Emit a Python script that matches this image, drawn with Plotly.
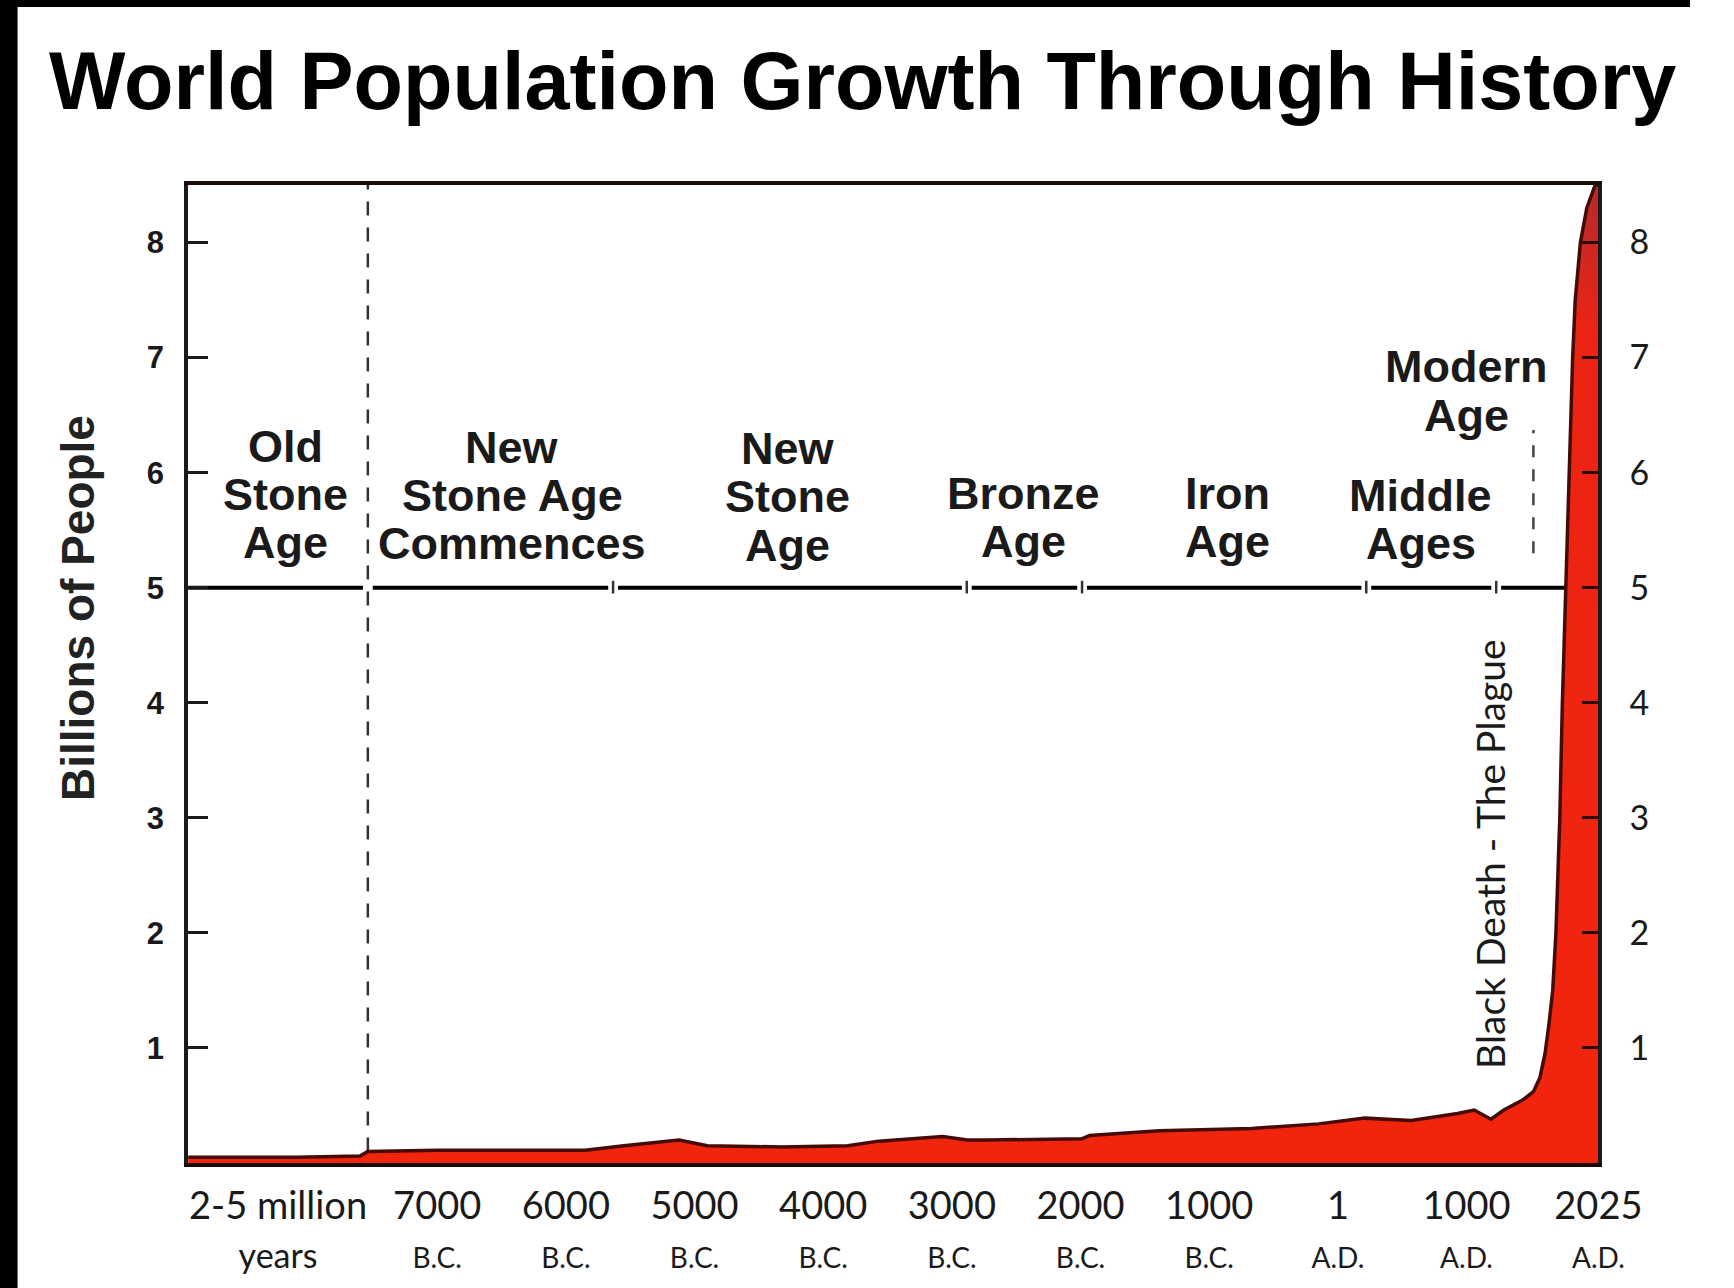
import plotly.graph_objects as go

# ---------------- data ----------------
years = [-8936, -8100, -7600, -7540, -7000, -5850, -5550, -5120, -4900, -4330,
         -3810, -3570, -3070, -2880, -2720, -1990, -1930, -1390, -670, -150,
         210, 570, 930, 1060, 1190, 1290, 1440, 1520, 1570, 1610,
         1640, 1670, 1695, 1725, 1745, 1770, 1800, 1825, 1845, 1885,
         1935, 2000, 2025]
population_billions = [0.05, 0.05, 0.06, 0.10, 0.11, 0.11, 0.15, 0.20, 0.15, 0.14,
                       0.15, 0.19, 0.23, 0.20, 0.20, 0.21, 0.24, 0.28, 0.30, 0.34,
                       0.39, 0.37, 0.43, 0.46, 0.38, 0.46, 0.55, 0.62, 0.74, 0.95,
                       1.2, 1.5, 2.0, 3.0, 4.0, 5.0, 6.0, 7.0, 7.5, 8.0,
                       8.3, 8.5, 8.5]

x_tick_years = [-8237, -7000, -6000, -5000, -4000, -3000, -2000, -1000, 1, 1000, 2025]
x_tick_top = ["2-5 million", "7000", "6000", "5000", "4000", "3000", "2000", "1000", "1", "1000", "2025"]
x_tick_bottom = ["years", "B.C.", "B.C.", "B.C.", "B.C.", "B.C.", "B.C.", "B.C.", "A.D.", "A.D.", "A.D."]

y_ticks = [1, 2, 3, 4, 5, 6, 7, 8]
y_tick_labels = ["1", "2", "3", "4", "5", "6", "7", "8"]

era_names = [["Old", "Stone", "Age"],
             ["New", "Stone Age", "Commences"],
             ["New", "Stone", "Age"],
             ["Bronze", "Age"],
             ["Iron", "Age"],
             ["Middle", "Ages"],
             ["Modern", "Age"]]
era_label_x = [-8177, -6415, -4274, -2444, -857, 646, 1003]
era_label_bottom = [5.39, 5.38, 5.37, 5.40, 5.40, 5.38, 6.50]

era_boundaries = [-7539, -5633, -2884, -1988, 221, 1231]
neolithic_start = -7539
modern_start = 1520

title_text = "World Population Growth Through History"
y_title_text = "Billions of People"
plague_text = "Black Death - The Plague"
plague_x = 1186
plague_y = 2.69

# ---------------- figure ----------------
W, H = 1734, 1288
X_RANGE = [-8936, 2025]
Y_RANGE = [0, 8.5]

fig = go.Figure()

fig.add_trace(go.Scatter(
    x=years, y=population_billions,
    mode="lines",
    line=dict(color="#450b06", width=3.5),
    fill="tozeroy",
    fillgradient=dict(type="vertical",
                      colorscale=[[0, "#f2240c"], [0.85, "#ec2414"], [1, "#b52a2c"]]),
    hoverinfo="skip", showlegend=False,
))
# invisible companion on the right-hand axis so it is drawn
fig.add_trace(go.Scatter(
    x=years, y=population_billions, yaxis="y2", mode="lines",
    line=dict(width=0, color="rgba(0,0,0,0)"), hoverinfo="skip", showlegend=False,
))

shapes = []
# black border of the original picture
shapes.append(dict(type="rect", xref="paper", yref="paper", x0=0, x1=18 / W, y0=0, y1=1,
                   fillcolor="black", line=dict(width=0), layer="below"))
shapes.append(dict(type="rect", xref="paper", yref="paper", x0=0, x1=1, y0=1 - 7 / H, y1=1,
                   fillcolor="black", line=dict(width=0), layer="below"))

# horizontal era line at 5 billion with small gaps at the boundaries
half_gap = 38
seg_edges = [X_RANGE[0]] + era_boundaries + [X_RANGE[1]]
for i in range(len(seg_edges) - 1):
    a = seg_edges[i] + (half_gap if i > 0 else 0)
    b = seg_edges[i + 1] - (half_gap if i + 1 < len(seg_edges) - 1 else 0)
    shapes.append(dict(type="line", xref="x", yref="y", x0=a, x1=b, y0=5, y1=5,
                       line=dict(color="black", width=4), layer="below"))
for bx in era_boundaries[1:]:
    shapes.append(dict(type="line", xref="x", yref="y", x0=bx, x1=bx, y0=4.95, y1=5.06,
                       line=dict(color="#333", width=2.5), layer="below"))

# dashed vertical line: start of the New Stone Age
shapes.append(dict(type="line", xref="x", yref="y", x0=neolithic_start, x1=neolithic_start,
                   y0=0.1, y1=Y_RANGE[1], line=dict(color="#333", width=2.5, dash="14px,12px"),
                   layer="below"))
# short dashed line: start of the Modern Age
shapes.append(dict(type="line", xref="x", yref="y", x0=modern_start, x1=modern_start,
                   y0=5.3, y1=6.37, line=dict(color="#444", width=2.5, dash="12px,12px"),
                   layer="below"))

annotations = []
annotations.append(dict(text="<b>" + title_text + "</b>", xref="paper", yref="paper",
                        x=885 / W, y=1 - 81 / H, xanchor="center", yanchor="middle",
                        showarrow=False,
                        font=dict(family="Liberation Sans, Arial", size=81, color="black")))
annotations.append(dict(text="<b>" + y_title_text + "</b>", xref="paper", yref="paper",
                        x=80 / W, y=1 - 608 / H, xanchor="center", yanchor="middle",
                        textangle=-90, showarrow=False,
                        font=dict(family="Liberation Sans, Arial", size=46, color="#222")))
line_step = 0.42
for lines, ex, eb in zip(era_names, era_label_x, era_label_bottom):
    n = len(lines)
    for i, t in enumerate(lines):
        annotations.append(dict(text="<b>" + t + "</b>", xref="x", yref="y",
                                x=ex, y=eb + (n - 1 - i) * line_step,
                                xanchor="center", yanchor="middle", showarrow=False,
                                font=dict(family="Liberation Sans, Arial", size=45, color="#1a1a1a")))
annotations.append(dict(text=plague_text, xref="x", yref="y", x=plague_x, y=plague_y,
                        textangle=-90, xanchor="center", yanchor="middle", showarrow=False,
                        font=dict(family="Lato, Open Sans", size=39, color="#1a1a1a")))

x_ticktext = []
for top, bot in zip(x_tick_top, x_tick_bottom):
    bsize = 34 if bot == "years" else 28
    x_ticktext.append(f"{top}<br><span style='font-size:{bsize}px'>{bot}</span>")

fig.update_layout(
    width=W, height=H,
    margin=dict(l=0, r=0, t=0, b=0),
    paper_bgcolor="white", plot_bgcolor="white",
    showlegend=False,
    shapes=shapes, annotations=annotations,
    xaxis=dict(domain=[193 / W, 1640 / W], range=X_RANGE,
               tickmode="array", tickvals=x_tick_years, ticktext=x_ticktext,
               ticks="", ticklabelstandoff=6,
               tickfont=dict(family="Lato, Open Sans", size=38, color="#1a1a1a"),
               showgrid=False, zeroline=False,
               showline=True, linecolor="#1a0a08", linewidth=4, mirror=True),
    yaxis=dict(domain=[1 - 1163 / H, 1 - 185 / H], range=Y_RANGE,
               tickmode="array", tickvals=y_ticks, ticktext=y_tick_labels,
               ticks="inside", ticklen=20, tickwidth=3, tickcolor="#1a1a1a",
               ticklabelstandoff=14,
               tickfont=dict(family="Liberation Sans, Arial", size=31, color="#1a1a1a",
                             weight="bold"),
               showgrid=False, zeroline=False,
               showline=True, linecolor="#1a1a1a", linewidth=4, mirror=True),
    yaxis2=dict(overlaying="y", side="right", range=Y_RANGE, matches="y",
                tickmode="array", tickvals=y_ticks, ticktext=y_tick_labels,
                ticks="inside", ticklen=16, tickwidth=3, tickcolor="#2a0805",
                ticklabelstandoff=30,
                tickfont=dict(family="Lato, Open Sans", size=34, color="#1a1a1a"),
                showgrid=False, zeroline=False, showline=False),
)

post = (
    "document.body.style.margin='0px';"
    "document.body.style.overflow='hidden';"
    "Plotly.relayout('{plot_id}', {width: window.innerWidth, height: window.innerHeight});"
)
fig.write_html("out.html", config={"displayModeBar": False}, post_script=post)
